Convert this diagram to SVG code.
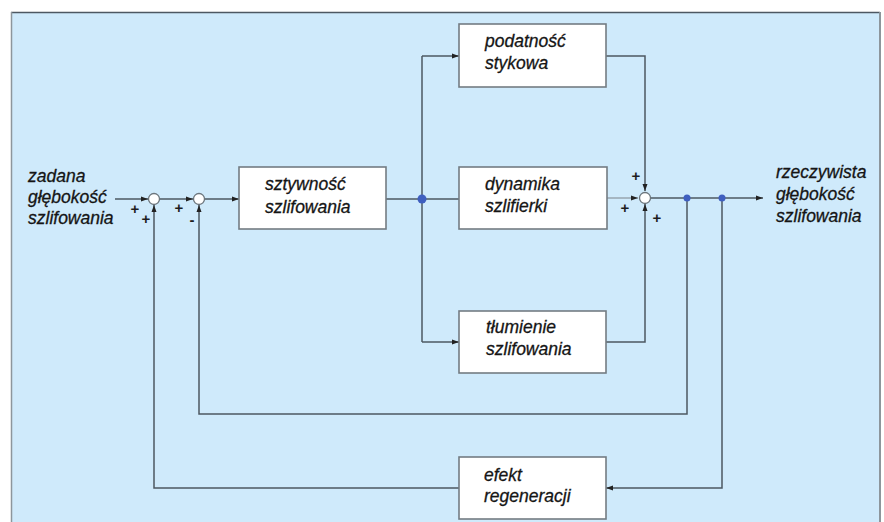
<svg xmlns="http://www.w3.org/2000/svg" width="884" height="522" viewBox="0 0 884 522">
<style>
.bg{fill:#cfeafb}
.box{fill:#ffffff;stroke:#737c83;stroke-width:1.6}
.ln{fill:none;stroke:#4d5862;stroke-width:1.5}
.lt{fill:none;stroke:#8f9aa2;stroke-width:1.3}
.sum{fill:#ffffff;stroke:#6b757c;stroke-width:1.3}
.dot{fill:#3f5fbf}
.t{font-family:"Liberation Sans",Arial,sans-serif;font-style:italic;font-size:17.5px;fill:#151515;stroke:#151515;stroke-width:0.3}
.s{font-family:"Liberation Sans",Arial,sans-serif;font-weight:bold;font-size:15px;fill:#1e1e1e;text-anchor:middle}
</style>
<defs>
<marker id="ar" markerWidth="8" markerHeight="6" refX="7" refY="3" orient="auto" markerUnits="userSpaceOnUse">
<path d="M0,0.5 L7,3 L0,5.5 Z" fill="#222"/>
</marker>
</defs>
<rect x="0" y="0" width="884" height="522" fill="#ffffff"/>
<rect class="bg" x="11" y="12" width="869" height="512"/>
<line x1="11" y1="12.5" x2="880" y2="12.5" stroke="#4d5862" stroke-width="1.5"/>
<line x1="11.5" y1="12" x2="11.5" y2="522" stroke="#8d969c" stroke-width="1.5"/>
<line x1="880" y1="12" x2="880" y2="522" stroke="#8d969c" stroke-width="2"/>

<g id="connectors">
<line class="ln" x1="115" y1="199" x2="148" y2="199" marker-end="url(#ar)"/>
<line class="ln" x1="160" y1="199" x2="193" y2="199" marker-end="url(#ar)"/>
<line class="ln" x1="205" y1="199" x2="239" y2="199" marker-end="url(#ar)"/>
<line class="ln" x1="386" y1="199" x2="459" y2="199"/>
<line class="ln" x1="422" y1="56" x2="422" y2="342"/>
<polyline class="ln" points="422,56 459,56" marker-end="url(#ar)"/>
<polyline class="ln" points="422,342 459,342" marker-end="url(#ar)"/>
<polyline class="ln" points="606,56 645,56 645,191" marker-end="url(#ar)"/>
<polyline class="ln" points="606,342 645,342 645,204" marker-end="url(#ar)"/>
<line class="lt" x1="607" y1="198" x2="638" y2="198" marker-end="url(#ar)"/>
<line class="ln" x1="651" y1="198" x2="763" y2="198" marker-end="url(#ar)"/>
<polyline class="ln" points="687,198 687,414 199,414 199,205" marker-end="url(#ar)"/>
<polyline class="ln" points="722,198 722,488 606,488" marker-end="url(#ar)"/>
<polyline class="ln" points="459,488 154,488 154,205" marker-end="url(#ar)"/>
<circle class="dot" cx="422" cy="199" r="4.5"/>
<circle class="dot" cx="687" cy="198" r="3.5"/>
<circle class="dot" cx="722" cy="198" r="3.5"/>
</g>

<g id="sum1">
<circle class="sum" cx="154" cy="199" r="5.5"/>
<text class="s" x="135" y="214">+</text>
<text class="s" x="146" y="224">+</text>
</g>
<g id="sum2">
<circle class="sum" cx="199" cy="199" r="5.5"/>
<text class="s" x="179" y="213">+</text>
<text class="s" x="192" y="225">-</text>
</g>
<g id="sum3">
<circle class="sum" cx="645" cy="198" r="5.5"/>
<text class="s" x="636" y="181">+</text>
<text class="s" x="625" y="213">+</text>
<text class="s" x="657" y="223">+</text>
</g>

<g id="input">
<text class="t" x="28" y="182">zadana</text>
<text class="t" x="28" y="203">głębokość</text>
<text class="t" x="28" y="224">szlifowania</text>
</g>
<g id="output">
<text class="t" x="776" y="178">rzeczywista</text>
<text class="t" x="776" y="200">głębokość</text>
<text class="t" x="776" y="222">szlifowania</text>
</g>

<g id="sztywnosc">
<rect class="box" x="239" y="167" width="147" height="62"/>
<text class="t" x="265" y="190">sztywność</text>
<text class="t" x="265" y="213">szlifowania</text>
</g>
<g id="podatnosc">
<rect class="box" x="459" y="24" width="147" height="63"/>
<text class="t" x="485" y="47">podatność</text>
<text class="t" x="485" y="69">stykowa</text>
</g>
<g id="dynamika">
<rect class="box" x="459" y="167" width="148" height="62"/>
<text class="t" x="485" y="190">dynamika</text>
<text class="t" x="485" y="212">szlifierki</text>
</g>
<g id="tlumienie">
<rect class="box" x="459" y="311" width="147" height="62"/>
<text class="t" x="486" y="333">tłumienie</text>
<text class="t" x="486" y="355">szlifowania</text>
</g>
<g id="efekt">
<rect class="box" x="459" y="457" width="147" height="62"/>
<text class="t" x="484" y="481">efekt</text>
<text class="t" x="484" y="502">regeneracji</text>
</g>
</svg>
